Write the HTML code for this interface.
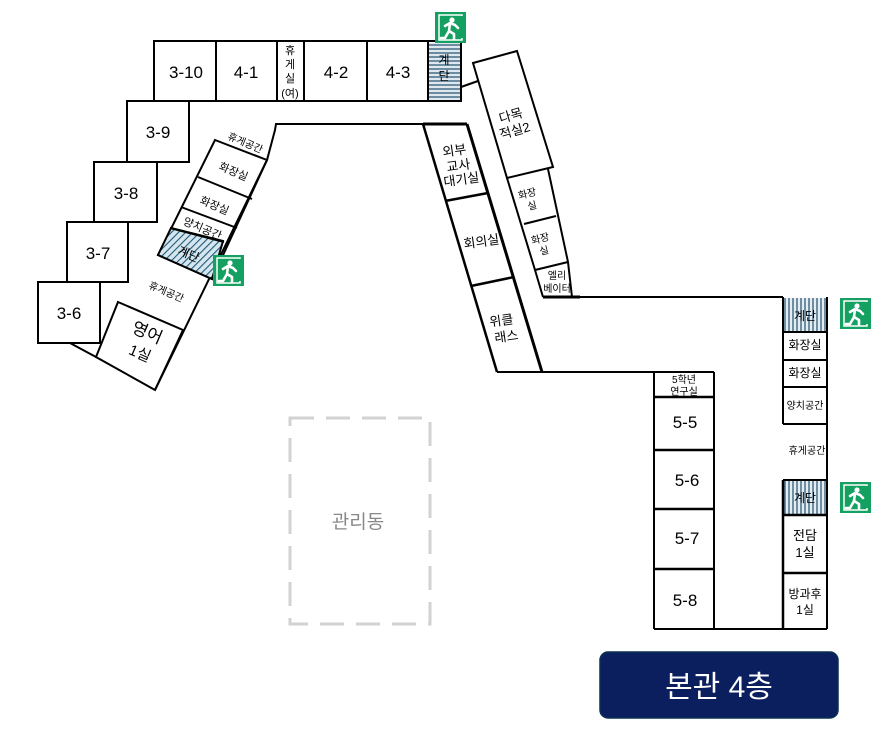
<!DOCTYPE html>
<html><head><meta charset="utf-8"><style>
html,body{margin:0;padding:0;background:#fff;}
svg{display:block;}
text{font-family:"Liberation Sans","Noto Sans CJK KR",sans-serif;fill:#000;}
</style></head><body>
<svg width="885" height="739" viewBox="0 0 885 739" xmlns="http://www.w3.org/2000/svg">
<defs>
<pattern id="hh" width="4" height="4" patternUnits="userSpaceOnUse"><rect width="4" height="4" fill="#dfe8ee"/><line x1="0" y1="1" x2="4" y2="1" stroke="#1f4e6e" stroke-width="1.2"/></pattern>
<pattern id="vh" width="4" height="4" patternUnits="userSpaceOnUse"><rect width="4" height="4" fill="#e6edf2"/><line x1="1" y1="0" x2="1" y2="4" stroke="#1f4e6e" stroke-width="1.2"/></pattern>
<pattern id="dh" width="5" height="5" patternUnits="userSpaceOnUse" patternTransform="rotate(45)"><rect width="5" height="5" fill="#d6e6ef"/><line x1="0" y1="0" x2="0" y2="5" stroke="#1f5a7a" stroke-width="2.2"/></pattern>
<g id="exit"><rect width="31" height="31" fill="#13a060"/><rect x="4" y="3" width="23" height="25" fill="none" stroke="#fff" stroke-width="1.5"/><rect x="14" y="4" width="14" height="22" fill="#13a060"/><circle cx="17" cy="8" r="2.6" fill="#fff"/><path d="M10 14 L15 11 L20 13 L23 16 M15 11 L14 19 L19 22 L19 27 M14 19 L10 26 L6 26" stroke="#fff" stroke-width="2.6" fill="none" stroke-linecap="round" stroke-linejoin="round"/></g>
</defs>
<g fill="none" stroke="#000" stroke-width="2">
<!-- top row -->
<rect x="154" y="41" width="307" height="60" fill="#fff"/>
<line x1="216" y1="41" x2="216" y2="101"/><line x1="277" y1="41" x2="277" y2="101"/><line x1="304" y1="41" x2="304" y2="101"/><line x1="367" y1="41" x2="367" y2="101"/><line x1="428" y1="41" x2="428" y2="101"/>
<rect x="429" y="43" width="31" height="57" fill="url(#hh)" stroke="none"/>
<!-- stepped rooms -->
<rect x="127" y="101" width="62" height="61" fill="#fff"/>
<rect x="94" y="162" width="63" height="60" fill="#fff"/>
<rect x="67" y="222" width="61" height="60" fill="#fff"/>
<rect x="38" y="282" width="62" height="61" fill="#fff"/>
<line x1="70" y1="343" x2="96" y2="357"/>
<!-- left wing -->
<polyline points="425,124 276,124 275,130 267,160 155,390"/>
<polygon points="215,140 267,160 212,279 158,255"/>
<polygon points="171,228 223,241 212,279 158,255" fill="url(#dh)"/>
<line x1="198" y1="177" x2="252" y2="199"/>
<line x1="181" y1="207" x2="237" y2="228"/>
<line x1="170" y1="228" x2="224" y2="242"/>
<polygon points="118,302 183,330 155,390 96,357"/>
<!-- right diag column -->
<line x1="423" y1="124" x2="497" y2="372" stroke-width="2.5"/>
<line x1="467" y1="124" x2="542" y2="372" stroke-width="3"/>
<line x1="423" y1="124" x2="467" y2="124" stroke-width="3"/>
<line x1="445" y1="201" x2="488" y2="193" stroke-width="2.5"/>
<line x1="471" y1="286" x2="514" y2="277" stroke-width="2.5"/>
<polyline points="497,372 654,372"/>
<!-- 다목적실2 etc -->
<line x1="461" y1="87" x2="478" y2="81"/>
<polygon points="473,63 517,51 553,167 507,178"/>
<polyline points="507,178 535,270 543,297"/>
<polyline points="548,169 568,262 572,297"/>
<line x1="524" y1="224" x2="556" y2="216"/>
<line x1="535" y1="270" x2="568" y2="262"/>
<line x1="543" y1="297" x2="783" y2="297"/>
<line x1="543" y1="297" x2="580" y2="297" stroke-width="3"/>
<!-- right block -->
<line x1="827" y1="297" x2="827" y2="629"/>
<line x1="783" y1="297" x2="783" y2="424"/>
<line x1="783" y1="424" x2="827" y2="424"/>
<rect x="784" y="298" width="42" height="33" fill="url(#vh)" stroke="none"/>
<line x1="783" y1="332" x2="827" y2="332"/><line x1="783" y1="360" x2="827" y2="360"/><line x1="783" y1="387" x2="827" y2="387"/>
<line x1="783" y1="480" x2="827" y2="480"/>
<rect x="784" y="481" width="42" height="33" fill="url(#vh)" stroke="none"/>
<line x1="783" y1="480" x2="783" y2="629" stroke-width="2.5"/>
<line x1="783" y1="515" x2="827" y2="515" stroke-width="2.5"/>
<line x1="783" y1="573" x2="827" y2="573" stroke-width="2.5"/>
<line x1="654" y1="629" x2="827" y2="629"/>
<!-- 5 block -->
<line x1="654" y1="372" x2="714" y2="372"/>
<line x1="654" y1="372" x2="654" y2="629"/><line x1="714" y1="372" x2="714" y2="629"/>
<g stroke-width="2.5"><line x1="654" y1="397" x2="714" y2="397"/><line x1="654" y1="450" x2="714" y2="450"/><line x1="654" y1="509" x2="714" y2="509"/><line x1="654" y1="569" x2="714" y2="569"/></g>
</g>
<!-- 관리동 -->
<rect x="290" y="418" width="140" height="206" fill="none" stroke="#d2d2d2" stroke-width="3" stroke-dasharray="24,12"/>
<text x="358" y="528" font-size="19" text-anchor="middle" style="fill:#888">관리동</text>
<!-- exits -->
<use href="#exit" x="435" y="12"/>
<use href="#exit" x="213" y="255"/>
<use href="#exit" x="840" y="298"/>
<use href="#exit" x="840" y="482"/>
<!-- labels -->
<g font-size="17" text-anchor="middle">
<text x="186" y="78">3-10</text><text x="246" y="78">4-1</text><text x="336" y="78">4-2</text><text x="398" y="78">4-3</text>
<text x="158" y="138">3-9</text><text x="126" y="199">3-8</text><text x="98" y="259">3-7</text><text x="69" y="319">3-6</text>
<text x="685" y="428">5-5</text><text x="687" y="486">5-6</text><text x="687" y="544">5-7</text><text x="685" y="606">5-8</text>
</g>
<g font-size="11" text-anchor="middle">
<text x="290" y="54">휴</text><text x="290" y="68">게</text><text x="290" y="82">실</text><text x="290" y="97">(여)</text>
<text x="444" y="64" font-size="12">계</text><text x="444" y="80" font-size="12">단</text>
<text x="805" y="320" font-size="12">계단</text><text x="805" y="349" font-size="12">화장실</text><text x="805" y="377" font-size="12">화장실</text>
<text x="805" y="409" font-size="10">양치공간</text><text x="807" y="454" font-size="10">휴게공간</text>
<text x="805" y="502" font-size="12">계단</text>
<text x="805" y="540" font-size="13">전담</text><text x="805" y="557" font-size="13">1실</text>
<text x="805" y="598" font-size="12">방과후</text><text x="805" y="614" font-size="12">1실</text>
<text x="684" y="383" font-size="10">5학년</text><text x="684" y="395" font-size="10">연구실</text>
</g>
<g font-size="11" text-anchor="middle">
<text transform="translate(244,146) rotate(23)" font-size="10">휴게공간</text>
<text transform="translate(232,175) rotate(23)">화장실</text>
<text transform="translate(213,209) rotate(23)">화장실</text>
<text transform="translate(201,232) rotate(23)">양치공간</text>
<text transform="translate(187,258) rotate(23)" font-size="12">계단</text>
<text transform="translate(165,295) rotate(23)" font-size="10">휴게공간</text>
<text transform="translate(145,338) rotate(23)" font-size="17">영어</text>
<text transform="translate(138,358) rotate(23)" font-size="15">1실</text>
<text transform="translate(512,120) rotate(-16)" font-size="13">다목</text>
<text transform="translate(516,135) rotate(-16)" font-size="13">적실2</text>
<text transform="translate(455,155) rotate(-8)" font-size="13">외부</text>
<text transform="translate(459,170) rotate(-8)" font-size="13">교사</text>
<text transform="translate(462,184) rotate(-8)" font-size="13">대기실</text>
<text transform="translate(482,246) rotate(-8)" font-size="13">회의실</text>
<text transform="translate(502,325) rotate(-8)" font-size="13">위클</text>
<text transform="translate(507,341) rotate(-8)" font-size="13">래스</text>
<text transform="translate(528,197) rotate(-14)" font-size="10">화장</text>
<text transform="translate(533,209) rotate(-14)" font-size="10">실</text>
<text transform="translate(541,242) rotate(-14)" font-size="10">화장</text>
<text transform="translate(545,254) rotate(-14)" font-size="10">실</text>
<text x="557" y="279" font-size="10">엘리</text><text x="557" y="292" font-size="10">베이터</text>
</g>
<!-- badge -->
<rect x="600" y="652" width="238" height="66" rx="8" fill="#0b1f5f" stroke="#0a3050" stroke-width="1.5"/>
<text x="719" y="697" font-size="30" text-anchor="middle" style="fill:#fff">본관 4층</text>
</svg>
</body></html>
